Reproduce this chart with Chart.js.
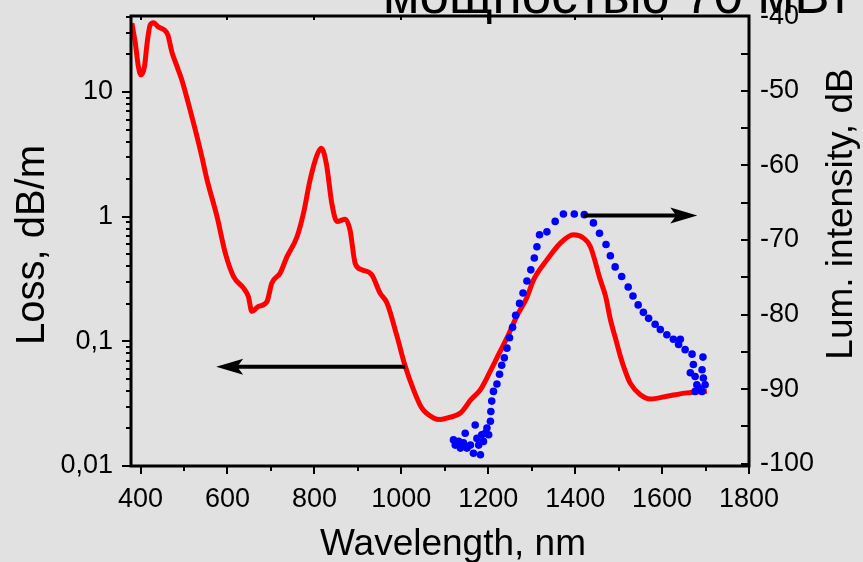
<!DOCTYPE html>
<html><head><meta charset="utf-8">
<script src="https://cdn.jsdelivr.net/npm/chart.js@4/dist/chart.umd.min.js"></script>
<style>html,body{margin:0;padding:0;background:#e1e1e1;overflow:hidden}</style>
</head><body>
<canvas id="c" width="863" height="562"></canvas>
<script>
// ---- data ----
const lossWavelength = [380,388,395,401,409,415,422,430,441,455,463,472,484,495,510,526,541,553,576,595,614,637,648,656,671,691,702,721,737,760,775,790,806,816,828,840,852,871,882,894,909,932,951,967,990,1009,1028,1047,1074,1090,1110,1136,1160,1182,1205,1225,1245,1266,1289,1304,1335,1366,1396,1420,1435,1458,1470,1481,1493,1504,1515,1527,1550,1573,1611,1657,1703];
const lossValues = [35.6,24.5,16,13.7,16,24.5,34.4,35.9,33.3,31.4,28.6,21,16,12.5,8.1,4.96,3.03,1.97,1.0,0.51,0.331,0.267,0.229,0.174,0.19,0.209,0.293,0.352,0.478,0.69,1.07,1.97,3.12,3.54,2.6,1.28,0.914,0.955,0.78,0.42,0.375,0.342,0.244,0.203,0.11,0.063,0.041,0.0292,0.0243,0.0236,0.0245,0.0266,0.034,0.041,0.058,0.08,0.11,0.16,0.225,0.31,0.45,0.614,0.715,0.67,0.575,0.31,0.23,0.15,0.105,0.076,0.058,0.046,0.0373,0.0345,0.0363,0.0386,0.0398];

const lumWavelength = [1120,1124,1132,1136,1143,1147,1151,1159,1166,1170,1174,1178,1182,1185,1189,1193,1197,1201,1205,1206,1208,1212,1220,1226,1231,1237,1243,1249,1256,1263,1272,1280,1289,1298,1306,1312,1318,1335,1354,1373,1398,1421,1442,1456,1471,1481,1492,1507,1522,1533,1545,1557,1569,1584,1596,1611,1626,1638,1642,1653,1669,1694,1672,1665,1676,1692,1695,1680,1699,1676,1692,1684];
const lumValues = [-96.8,-97.5,-97.0,-97.9,-97.2,-95.9,-97.9,-97.5,-98.6,-94.8,-96.6,-97.5,-98.8,-96.1,-97.0,-95.9,-95.2,-96.1,-94.3,-93.0,-91.6,-90.3,-89.3,-88.0,-86.8,-85.8,-84.5,-83.1,-81.7,-80.1,-78.5,-77.1,-75.5,-74.0,-72.4,-70.9,-69.3,-68.9,-67.5,-66.5,-66.5,-66.6,-67.7,-69.1,-70.6,-72.1,-73.6,-74.9,-76.3,-77.5,-78.7,-79.7,-80.5,-81.3,-82.0,-82.7,-83.3,-84.0,-83.3,-84.7,-85.3,-85.7,-86.7,-87.8,-88.3,-87.4,-88.5,-89.4,-89.4,-90.3,-90.3,-89.8];

const xTicks = [400,600,800,1000,1200,1400,1600,1800];
const xMinorTicks = [500,700,900,1100,1300,1500,1700];
const lossTicks = [0.01,0.1,1,10];
const lossTickLabels = ['0,01','0,1','1','10'];
const lossMinorTicks = [0.02,0.03,0.04,0.05,0.06,0.07,0.08,0.09,0.2,0.3,0.4,0.5,0.6,0.7,0.8,0.9,2,3,4,5,6,7,8,9,20,30,40];
const lumTicks = [-100,-90,-80,-70,-60,-50,-40];
const lumMinorTicks = [-95,-85,-75,-65,-55,-45];

// arrows: [tailWavelength, tipWavelength, value]
const lossArrow = [1009, 574, 0.0625];
const lumArrow = [1419, 1681, -66.7];

const headerText = 'мощностью 70 мВт';
const xTitle = 'Wavelength, nm';
const lossTitle = 'Loss, dB/m';
const lumTitle = 'Lum. intensity, dB';

const FONT = '"Liberation Sans", Arial, sans-serif';

function drawArrow(ctx, x1, y, x2){
  const dir = Math.sign(x2 - x1);
  const hl = 27, hh = 8;
  ctx.beginPath();
  ctx.moveTo(x1, y);
  ctx.lineTo(x2 - dir*hl*0.7, y);
  ctx.stroke();
  ctx.beginPath();
  ctx.moveTo(x2, y);
  ctx.lineTo(x2 - dir*hl, y - hh);
  ctx.lineTo(x2 - dir*hl*0.78, y);
  ctx.lineTo(x2 - dir*hl, y + hh);
  ctx.closePath();
  ctx.fill();
}

function rotatedText(ctx, text, cx, cy, size){
  ctx.save();
  ctx.font = size + 'px ' + FONT;
  ctx.textAlign = 'center'; ctx.textBaseline = 'middle';
  ctx.translate(cx, cy);
  ctx.rotate(-Math.PI/2);
  ctx.fillText(text, 0, 0);
  ctx.restore();
}

const deco = {
  id: 'deco',
  beforeDraw(chart){
    const ctx = chart.ctx;
    ctx.save();
    ctx.fillStyle = '#e1e1e1';
    ctx.fillRect(0,0,chart.width,chart.height);
    ctx.restore();
  },
  afterDraw(chart){
    const {ctx, chartArea:a} = chart;
    const x = chart.scales.x, yL = chart.scales.yL, yR = chart.scales.yR;
    ctx.save();
    ctx.strokeStyle = '#000'; ctx.fillStyle = '#000';
    ctx.lineCap = 'butt';
    ctx.lineWidth = 2;
    xTicks.forEach(v => {
      const p = Math.round(x.getPixelForValue(v));
      ctx.beginPath(); ctx.moveTo(p, a.bottom); ctx.lineTo(p, a.bottom + 8); ctx.stroke();
      ctx.beginPath(); ctx.moveTo(p, a.top); ctx.lineTo(p, a.top + 4); ctx.stroke();
    });
    xMinorTicks.forEach(v => {
      const p = Math.round(x.getPixelForValue(v));
      ctx.beginPath(); ctx.moveTo(p, a.bottom); ctx.lineTo(p, a.bottom + 5); ctx.stroke();
    });
    lossTicks.forEach(v => {
      const p = Math.round(yL.getPixelForValue(v));
      ctx.beginPath(); ctx.moveTo(a.left - 9, p); ctx.lineTo(a.left, p); ctx.stroke();
    });
    lossMinorTicks.forEach(v => {
      if (v > yL.max) return;
      const p = Math.round(yL.getPixelForValue(v));
      ctx.beginPath(); ctx.moveTo(a.left - 5, p); ctx.lineTo(a.left, p); ctx.stroke();
    });
    lumTicks.concat(lumMinorTicks).forEach(v => {
      const p = Math.round(yR.getPixelForValue(v));
      ctx.beginPath(); ctx.moveTo(a.right - 8, p); ctx.lineTo(a.right, p); ctx.stroke();
    });
    ctx.lineWidth = 3;
    ctx.strokeRect(a.left, a.top, a.right - a.left, a.bottom - a.top);

    // arrows
    ctx.lineWidth = 4;
    drawArrow(ctx, x.getPixelForValue(lossArrow[0]), yL.getPixelForValue(lossArrow[2]), x.getPixelForValue(lossArrow[1]));
    drawArrow(ctx, x.getPixelForValue(lumArrow[0]), yR.getPixelForValue(lumArrow[2]), x.getPixelForValue(lumArrow[1]));

    // axis titles
    rotatedText(ctx, lossTitle, 33, 245, 40);
    rotatedText(ctx, lumTitle, 842, 214, 37);
    ctx.font = '37px ' + FONT;
    ctx.textAlign = 'center'; ctx.textBaseline = 'alphabetic';
    ctx.fillText(xTitle, 453, 555);

    // header (cut off at top)
    ctx.font = '53px ' + FONT;
    ctx.textAlign = 'left'; ctx.textBaseline = 'alphabetic';
    ctx.fillText(headerText, 383, 13);
    ctx.restore();
  }
};

function fixV(width){
  return s => { s.width = width; s.paddingTop = 0; s.paddingBottom = 0; };
}

new Chart(document.getElementById('c'), {
  data: {
    datasets: [
      {
        type: 'scatter', label: 'Luminescence',
        data: lumWavelength.map((w,i) => ({x: w, y: lumValues[i]})),
        yAxisID: 'yR', xAxisID: 'x',
        backgroundColor: '#0000ff', borderWidth: 0, pointRadius: 3.8, showLine: false
      },
      {
        type: 'line', label: 'Loss',
        data: lossWavelength.map((w,i) => ({x: w, y: lossValues[i]})),
        yAxisID: 'yL', xAxisID: 'x',
        borderColor: '#ff0000', borderWidth: 5, pointRadius: 0,
        cubicInterpolationMode: 'monotone', fill: false
      }
    ]
  },
  options: {
    responsive: false, animation: false, devicePixelRatio: 1,
    layout: {padding: {top: 16, left: 0, right: 0, bottom: 0}},
    plugins: {legend: {display: false}, tooltip: {enabled: false}},
    scales: {
      x: {
        type: 'linear', position: 'bottom', min: 378, max: 1800,
        grid: {display: false, drawTicks: false}, border: {display: false},
        afterBuildTicks: s => { s.ticks = xTicks.map(v => ({value: v})); },
        afterFit: s => { s.height = 96; s.paddingLeft = 0; s.paddingRight = 0; },
        ticks: {padding: 20, color: '#000', font: {family: FONT, size: 27, lineHeight: 1}, maxRotation: 0, autoSkip: false,
          callback: v => String(v)}
      },
      yL: {
        type: 'logarithmic', position: 'left', min: 0.01, max: 40.7,
        grid: {display: false, drawTicks: false}, border: {display: false},
        afterBuildTicks: s => { s.ticks = lossTicks.map(v => ({value: v})); },
        afterFit: fixV(131),
        ticks: {padding: 18, color: '#000', font: {family: FONT, size: 27, lineHeight: 1}, autoSkip: false,
          callback: (v) => { const i = lossTicks.indexOf(v); return i >= 0 ? lossTickLabels[i] : ''; }}
      },
      yR: {
        type: 'linear', position: 'right', min: -100.3, max: -39.96,
        grid: {display: false, drawTicks: false}, border: {display: false},
        afterBuildTicks: s => { s.ticks = lumTicks.map(v => ({value: v})); },
        afterFit: fixV(114),
        ticks: {padding: 11, color: '#000', font: {family: FONT, size: 27, lineHeight: 1}, autoSkip: false,
          callback: v => String(v)}
      }
    }
  },
  plugins: [deco]
});
</script>
</body></html>
